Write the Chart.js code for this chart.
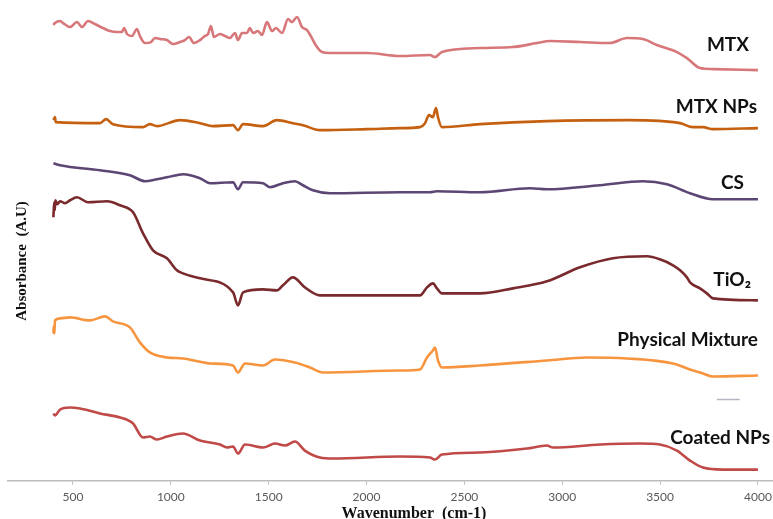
<!DOCTYPE html>
<html>
<head>
<meta charset="utf-8">
<script src="https://cdn.jsdelivr.net/npm/chart.js@4.4.1/dist/chart.umd.min.js"></script>
<style>
  html, body { margin: 0; padding: 0; background: #fff; }
  #wrap { width: 773px; height: 519px; }
</style>
</head>
<body>
<div id="wrap"><canvas id="ftirChart"></canvas></div>
<script>
// wavenumber ticks
const tickValues = [500, 1000, 1500, 2000, 2500, 3000, 3500, 4000];

const seriesNames = ['MTX', 'MTX NPs', 'CS', 'TiO₂', 'Physical Mixture', 'Coated NPs'];

const mtxWave = [400, 408, 434, 449, 485, 520, 546, 577, 612, 653, 689, 725, 750, 761, 776, 801, 827, 842, 868, 899, 919, 945, 980, 1011, 1047, 1072, 1093, 1118, 1149, 1174, 1190, 1205, 1220, 1251, 1277, 1302, 1328, 1343, 1364, 1389, 1404, 1420, 1445, 1466, 1491, 1517, 1537, 1568, 1599, 1619, 1645, 1670, 1696, 1747, 1772, 1813, 1864, 2002, 2171, 2324, 2350, 2385, 2580, 2748, 2871, 2937, 3091, 3244, 3331, 3412, 3484, 3586, 3637, 3704, 3770, 4000];
const mtxAbs = [4.55, 4.57, 4.59, 4.57, 4.53, 4.58, 4.53, 4.59, 4.56, 4.52, 4.49, 4.48, 4.48, 4.52, 4.46, 4.44, 4.51, 4.44, 4.37, 4.38, 4.42, 4.41, 4.40, 4.36, 4.38, 4.40, 4.43, 4.37, 4.40, 4.44, 4.46, 4.54, 4.43, 4.46, 4.44, 4.42, 4.47, 4.40, 4.47, 4.47, 4.52, 4.47, 4.49, 4.45, 4.58, 4.49, 4.52, 4.47, 4.61, 4.58, 4.63, 4.53, 4.50, 4.33, 4.28, 4.27, 4.27, 4.27, 4.24, 4.25, 4.23, 4.28, 4.32, 4.33, 4.37, 4.39, 4.38, 4.37, 4.42, 4.41, 4.35, 4.28, 4.22, 4.12, 4.11, 4.10];

const npsWave = [400, 408, 412, 638, 669, 704, 858, 893, 929, 1047, 1149, 1215, 1318, 1343, 1369, 1471, 1542, 1624, 1675, 1762, 2002, 2171, 2273, 2299, 2319, 2339, 2355, 2365, 2385, 2580, 2922, 3346, 3602, 3668, 3719, 3770, 4000];
const npsAbs = [3.60, 3.63, 3.58, 3.57, 3.61, 3.56, 3.53, 3.56, 3.54, 3.60, 3.57, 3.54, 3.55, 3.50, 3.56, 3.54, 3.60, 3.57, 3.55, 3.50, 3.51, 3.52, 3.53, 3.57, 3.65, 3.63, 3.72, 3.63, 3.53, 3.56, 3.59, 3.60, 3.57, 3.53, 3.53, 3.51, 3.52];

const csWave = [400, 434, 638, 791, 868, 929, 1031, 1062, 1149, 1200, 1318, 1343, 1369, 1471, 1507, 1573, 1634, 1675, 1726, 1813, 2171, 2324, 2360, 2580, 2835, 2922, 3193, 3412, 3535, 3653, 3770, 4000];
const csAbs = [3.17, 3.15, 3.10, 3.05, 2.99, 3.01, 3.05, 3.06, 3.02, 2.97, 2.98, 2.91, 2.98, 2.97, 2.93, 2.97, 2.99, 2.95, 2.90, 2.87, 2.88, 2.88, 2.89, 2.88, 2.92, 2.91, 2.95, 2.99, 2.96, 2.87, 2.81, 2.81];

const tio2Wave = [400, 404, 407, 410, 420, 434, 460, 485, 520, 577, 674, 740, 807, 858, 909, 980, 1031, 1062, 1149, 1318, 1343, 1369, 1471, 1542, 1573, 1624, 1685, 1762, 2171, 2273, 2309, 2339, 2360, 2385, 2580, 2748, 2922, 3091, 3259, 3433, 3499, 3566, 3602, 3637, 3653, 3704, 3739, 3770, 4000];
const tio2Abs = [2.63, 2.78, 2.70, 2.80, 2.76, 2.79, 2.77, 2.80, 2.83, 2.78, 2.79, 2.75, 2.68, 2.47, 2.30, 2.22, 2.10, 2.07, 2.02, 1.88, 1.75, 1.88, 1.91, 1.90, 1.95, 2.03, 1.93, 1.85, 1.85, 1.85, 1.93, 1.97, 1.92, 1.87, 1.87, 1.92, 1.99, 2.13, 2.22, 2.24, 2.21, 2.15, 2.10, 2.03, 1.98, 1.92, 1.87, 1.82, 1.80];

const mixWave = [400, 402, 405, 408, 434, 485, 587, 664, 704, 791, 842, 893, 980, 1062, 1200, 1318, 1343, 1379, 1471, 1532, 1634, 1711, 1777, 2171, 2273, 2309, 2339, 2350, 2365, 2385, 2580, 2922, 3126, 3331, 3566, 3653, 3719, 3770, 4000];
const mixAbs = [1.47, 1.54, 1.47, 1.60, 1.62, 1.63, 1.60, 1.64, 1.59, 1.53, 1.38, 1.28, 1.23, 1.22, 1.17, 1.15, 1.08, 1.17, 1.15, 1.21, 1.18, 1.13, 1.08, 1.10, 1.11, 1.23, 1.30, 1.33, 1.20, 1.13, 1.15, 1.20, 1.23, 1.22, 1.17, 1.11, 1.07, 1.04, 1.05];

const coatedWave = [400, 408, 434, 485, 536, 638, 740, 807, 858, 893, 929, 980, 1062, 1149, 1251, 1287, 1318, 1343, 1379, 1471, 1532, 1583, 1634, 1685, 1762, 1828, 2171, 2324, 2350, 2385, 2580, 2820, 2922, 2953, 3193, 3397, 3499, 3586, 3653, 3719, 3821, 4000];
const coatedAbs = [0.67, 0.65, 0.71, 0.73, 0.72, 0.67, 0.63, 0.57, 0.43, 0.44, 0.41, 0.44, 0.47, 0.40, 0.36, 0.33, 0.34, 0.27, 0.36, 0.33, 0.37, 0.35, 0.39, 0.30, 0.23, 0.22, 0.24, 0.23, 0.21, 0.26, 0.28, 0.32, 0.35, 0.33, 0.36, 0.37, 0.36, 0.30, 0.20, 0.13, 0.11, 0.11];

// stray short mark left of Coated NPs label
const strayWave = [3790, 3907];
const strayAbs = [0.81, 0.81];

const colors = ['#d8777a', '#c4600f', '#5c4674', '#7a2a2c', '#f7953f', '#c04a48'];

function pts(w, a) {
    return w.map((x, i) => ({ x: x, y: a[i] }));
}

const waves = [mtxWave, npsWave, csWave, tio2Wave, mixWave, coatedWave];
const absVals = [mtxAbs, npsAbs, csAbs, tio2Abs, mixAbs, coatedAbs];

const datasets = seriesNames.map((name, i) => ({
    label: name,
    data: pts(waves[i], absVals[i]),
    borderColor: colors[i],
    borderWidth: 2.6,
    pointRadius: 0,
    cubicInterpolationMode: 'monotone'
}));
datasets.push({
    label: '',
    data: pts(strayWave, strayAbs),
    borderColor: '#b9b3c4',
    borderWidth: 1.5,
    pointRadius: 0
});

// series names sit at the right end of each trace
const labelSpots = [
    { x: 749, y: 45 },
    { x: 757, y: 107 },
    { x: 744, y: 183 },
    { x: 751, y: 280 },
    { x: 758, y: 340 },
    { x: 770, y: 438 }
];

const textPlugin = {
    id: 'ftirText',
    afterDraw(chart) {
        const ctx = chart.ctx;
        ctx.save();
        ctx.fillStyle = '#111';
        ctx.font = 'bold 19px Lato, "Open Sans", sans-serif';
        ctx.textAlign = 'right';
        ctx.textBaseline = 'middle';
        seriesNames.forEach((n, i) => ctx.fillText(n, labelSpots[i].x, labelSpots[i].y));

        ctx.font = 'bold 16px "Liberation Serif", "Times New Roman", serif';
        ctx.textAlign = 'center';
        ctx.fillText('Wavenumber  (cm-1)', 414, 514);

        ctx.translate(22, 261);
        ctx.rotate(-Math.PI / 2);
        ctx.font = 'bold 15px "Liberation Serif", "Times New Roman", serif';
        ctx.fillText('Absorbance  (A.U)', 0, 0);
        ctx.restore();
    }
};

new Chart(document.getElementById('ftirChart'), {
    type: 'line',
    data: { datasets: datasets },
    options: {
        responsive: true,
        maintainAspectRatio: false,
        animation: false,
        layout: { padding: { left: 8, right: 0, top: 0, bottom: 10 } },
        plugins: { legend: { display: false }, tooltip: { enabled: false } },
        scales: {
            x: {
                type: 'linear',
                min: 168,
                max: 4077,
                afterBuildTicks: (scale) => { scale.ticks = tickValues.map(v => ({ value: v })); },
                afterFit: (scale) => { scale.paddingLeft = 0; scale.paddingRight = 0; },
                ticks: {
                    color: '#595959',
                    font: { family: 'Lato, "Open Sans", sans-serif', size: 12 },
                    padding: 5,
                    maxRotation: 0,
                    callback: (v) => String(v)
                },
                grid: { display: true, drawOnChartArea: false, drawTicks: true, tickLength: 4, color: '#bdbdbd' },
                border: { color: '#bdbdbd', width: 1.5 }
            },
            y: { display: false, min: 0, max: 4.8 }
        }
    },
    plugins: [textPlugin]
});
</script>
</body>
</html>
